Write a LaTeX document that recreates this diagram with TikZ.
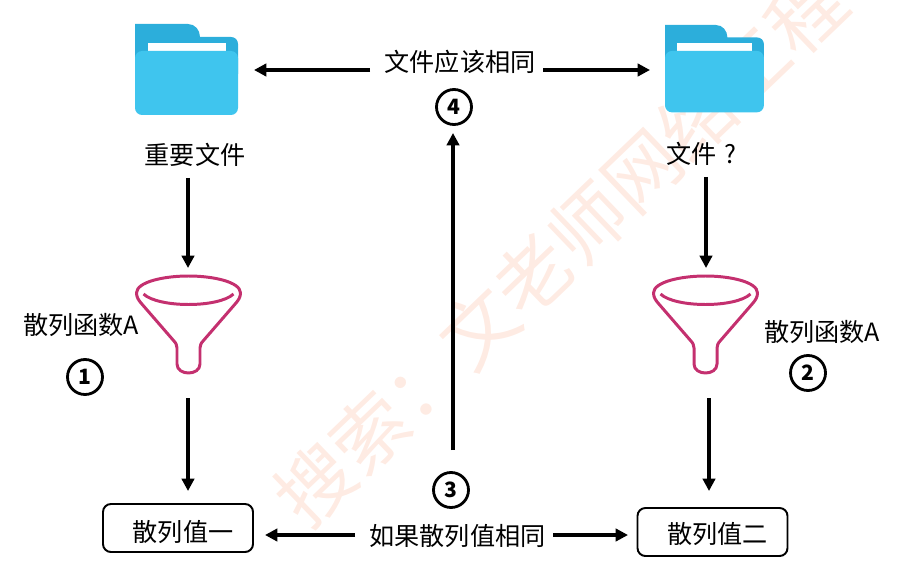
\documentclass[tikz,border=0pt]{standalone}
\usepackage{fontspec}
\setmainfont{Noto Sans CJK SC}
\usetikzlibrary{arrows.meta}
\definecolor{folderback}{HTML}{2CAEDB}
\definecolor{folderfront}{HTML}{3FC5EE}
\definecolor{funnelline}{HTML}{C4306F}
\definecolor{markcolor}{HTML}{FEEBE3}
\tikzset{
	label text/.style={font=\fontsize{14.3pt}{16pt}\selectfont,inner sep=0pt},
	num/.style={draw,circle,line width=1.6pt,minimum size=.7cm,inner sep=0pt,font=\bfseries\fontsize{12pt}{14pt}\selectfont},
	value box/.style={draw,rounded corners=4.5pt,line width=1.1pt,minimum width=3cm,minimum height=.96cm,inner sep=0pt,text depth=.06cm,font=\fontsize{14.3pt}{16pt}\selectfont},
	flow/.style={line width=2.1pt,-{Triangle[length=7pt,width=7pt]}},
	funnel line/.style={draw=funnelline,line width=1.7pt,line join=round},
}
\newcommand{\folderdraw}[1]{
	\begin{scope}[#1]
		\fill[folderback] (0,0) -- (1.06,0) .. controls (1.2,0) and (1.3,.12) .. (1.3,.26) -- (1.92,.26) .. controls (2,.26) and (2.06,.32) .. (2.06,.4) -- (2.06,1) -- (0,1) -- cycle;
		\fill[white] (.26,.38) rectangle (1.82,.6);
		\fill[folderfront,rounded corners=4pt] (0,.54) rectangle (2.06,1.82);
	\end{scope}
}
\newcommand{\funneldraw}[1]{
	\begin{scope}[shift={#1}]
		\draw[funnel line] (-1.04,0) .. controls (-1.04,-.22) and (-.5,-.34) .. (0,-.34) .. controls (.5,-.34) and (1.04,-.22) .. (1.04,0) .. controls (1.04,.08) and (1,.14) .. (.95,.2) -- (.3,.95) .. controls (.25,1) and (.23,1.05) .. (.23,1.1) -- (.23,1.42) .. controls (.23,1.66) and (-.23,1.66) .. (-.23,1.42) -- (-.23,1.1) .. controls (-.23,1.05) and (-.25,1) .. (-.3,.95) -- (-.95,.2) .. controls (-1,.14) and (-1.04,.08) .. (-1.04,0) -- cycle;
		\draw[funnel line] (-.9,.02) .. controls (-.6,.3) and (.6,.3) .. (.9,.02);
	\end{scope}
}
\begin{document}
\begin{tikzpicture}[x=1cm,y=-1cm]
	\useasboundingbox (0,0) rectangle (18.22,11.58);
	% watermark
	\node[rotate=43.8,text=markcolor,inner sep=0pt,font=\fontsize{43pt}{45pt}\selectfont] (mark) at (11.2,4.98) {搜索：文老师网络工程};

	\folderdraw{shift={(2.7,.48)}}
	\folderdraw{shift={(13.3,.5)},scale=.96}
	\funneldraw{(3.77,5.86)}
	\funneldraw{(14.11,5.86)}

	\node[label text] (filea) at (3.9,3.1) {重要文件};
	\node[label text] (fileb) at (14.03,3.08) {文件\hspace{.15cm}?};
	\node[label text] (same) at (9.2,1.24) {文件应该相同};
	\node[label text] (equal) at (9.15,10.72) {如果散列值相同};
	\node[label text] (hasha) at (1.62,6.5) {散列函数A};
	\node[label text] (hashb) at (16.44,6.64) {散列函数A};
	\node[value box,text height=.6cm] (valuea) at (3.56,10.56) {\hspace*{.2cm}散列值一};
	\node[value box,text height=.52cm] (valueb) at (14.25,10.64) {\hspace*{.2cm}散列值二};

	\node[num] (one) at (1.7,7.54) {1};
	\node[num] (two) at (16.16,7.46) {2};
	\node[num] (three) at (9.02,9.8) {3};
	\node[num] (four) at (9.08,2.14) {4};

	% free ends of the arrows
	\coordinate (sameleft) at (7.4,1.4);
	\coordinate (sameright) at (10.86,1.4);
	\coordinate (foldera) at (5.08,1.4);
	\coordinate (folderb) at (13,1.4);
	\coordinate (fileaout) at (3.76,3.56);
	\coordinate (filebout) at (14.12,3.54);
	\coordinate (funnelain) at (3.76,5.36);
	\coordinate (funnelbin) at (14.12,5.36);
	\coordinate (funnelaout) at (3.76,7.96);
	\coordinate (funnelbout) at (14.18,7.96);
	\coordinate (valueaout) at (3.76,9.82);
	\coordinate (valuebout) at (14.18,9.82);
	\coordinate (equalup) at (9.06,9);
	\coordinate (fourin) at (9.06,2.66);
	\coordinate (equalleft) at (7.1,10.7);
	\coordinate (equalright) at (11.06,10.7);
	\coordinate (valueain) at (5.3,10.7);
	\coordinate (valuebin) at (12.56,10.7);

	\draw[flow] (sameleft) -- (foldera);
	\draw[flow] (sameright) -- (folderb);
	\draw[flow] (fileaout) -- (funnelain);
	\draw[flow] (filebout) -- (funnelbin);
	\draw[flow] (funnelaout) -- (valueaout);
	\draw[flow] (funnelbout) -- (valuebout);
	\draw[flow] (equalup) -- (fourin);
	\draw[flow] (equalleft) -- (valueain);
	\draw[flow] (equalright) -- (valuebin);
\end{tikzpicture}
\end{document}
